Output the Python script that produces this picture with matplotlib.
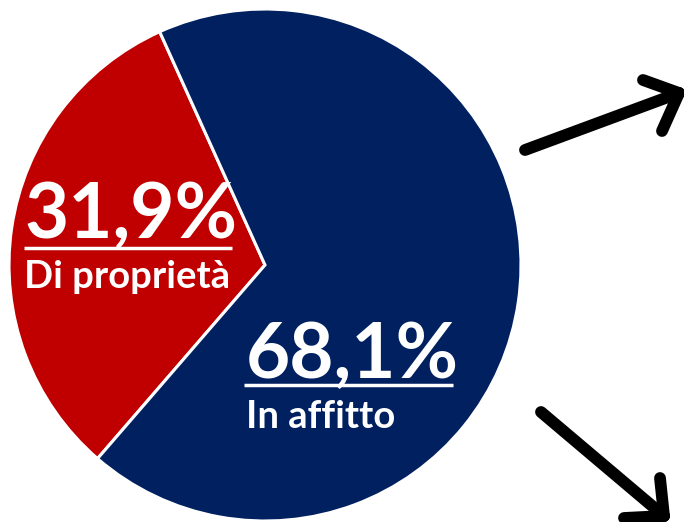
import matplotlib.pyplot as plt

# shares of households
labels = ["Di proprietà", "In affitto"]
values = [31.9, 68.1]
colors = ["#C00000", "#002060"]
value_texts = ["31,9%", "68,1%"]

W, H = 684, 522

fig = plt.figure(figsize=(W / 100, H / 100), dpi=100)
ax = fig.add_axes([0, 0, 1, 1])

ax.pie(values, colors=colors, startangle=114.3, counterclock=True,
       center=(265, H - 265), radius=256, frame=True,
       wedgeprops=dict(edgecolor="white", linewidth=2.2))

ax.set_xlim(0, W)
ax.set_ylim(0, H)
ax.set_aspect("equal")
ax.axis("off")

font = "Lato"

# labels inside the slices (x, y of the big number, in pixels from top-left)
label_pos = [(24, 238), (246, 378)]
line_span = [(24, 232), (244, 453)]
line_y = [248, 385]
sub_y = [288, 428]
for i in range(2):
    x, y = label_pos[i]
    ax.text(x, H - y, value_texts[i], color="white", fontsize=55,
            fontweight="bold", family=font, ha="left", va="baseline")
    ax.plot(line_span[i], [H - line_y[i]] * 2, color="white", lw=2.5,
            solid_capstyle="butt")
    ax.text(x, H - sub_y[i], labels[i], color="white", fontsize=27.5,
            fontweight="bold", family=font, ha="left", va="baseline")

# arrows on the right
def arrow(tail, tip, arm1, arm2):
    kw = dict(color="black", lw=8.5, solid_capstyle="round", solid_joinstyle="round")
    for a, b in [(tail, tip), (arm1, tip), (arm2, tip)]:
        ax.plot([a[0], b[0]], [H - a[1], H - b[1]], **kw)

arrow((525, 150), (679, 93), (643, 80), (662, 131))
arrow((541, 412), (664, 516), (660, 478), (624, 518))

fig.savefig("out.png", dpi=100)
